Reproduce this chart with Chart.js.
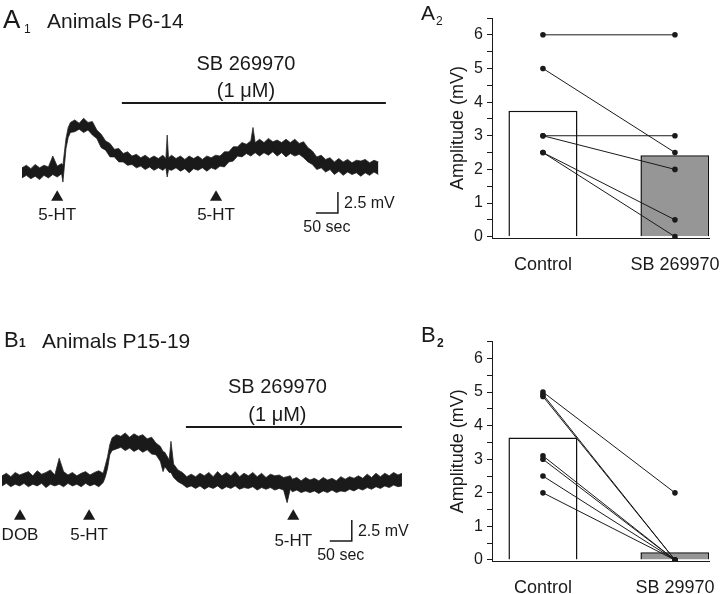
<!DOCTYPE html>
<html><head><meta charset="utf-8">
<script src="https://cdn.jsdelivr.net/npm/chart.js@4.4.1/dist/chart.umd.min.js"></script>
<style>
html,body{margin:0;padding:0;background:#fff;}
#wrap{position:relative;width:720px;height:594px;overflow:hidden;font-family:"Liberation Sans",Arial,sans-serif;color:#1a1a1a;}
canvas{position:absolute;}
.lbl{position:absolute;white-space:nowrap;line-height:1;}
</style></head><body>
<div id="wrap">
<canvas id="a1" width="400" height="250" style="left:0px;top:0px"></canvas>
<canvas id="b1" width="410" height="294" style="left:0px;top:300px"></canvas>
<canvas id="a2" width="320" height="300" style="left:400px;top:0px"></canvas>
<canvas id="b2" width="320" height="294" style="left:400px;top:300px"></canvas>
<div class="lbl" style="left:3px;top:6px;font-size:26px">A</div>
<div class="lbl" style="left:24px;top:23px;font-size:12px">1</div>
<div class="lbl" style="left:47px;top:10px;font-size:21px">Animals P6-14</div>
<div class="lbl" style="left:421px;top:2px;font-size:21px">A</div>
<div class="lbl" style="left:436px;top:15px;font-size:12px">2</div>
<div class="lbl" style="left:4px;top:329px;font-size:22px">B</div>
<div class="lbl" style="left:19px;top:337px;font-size:12px;font-weight:bold">1</div>
<div class="lbl" style="left:42px;top:330px;font-size:21px">Animals P15-19</div>
<div class="lbl" style="left:421px;top:324px;font-size:22px">B</div>
<div class="lbl" style="left:437px;top:337px;font-size:12px;font-weight:bold">2</div>
</div>
<script>
// ---------- DATA ----------
// Panel A1 trace (time in s, envelope of the noisy trace in mV relative to baseline)
const a1Time  = [0,10,20,30,40,50,60,70,80,90, 93,96, 100,105,110,
  120,130,140,150,160,170,180,190,200,210,220,230,240,250,260,270,280,290,300,310,320,
  327,330,333,
  340,350,360,370,380,390,400,410,420,430,440,450,460,470,480,490,500,510,520,
  525,
  530,540,550,560,570,580,590,600,610,620,630,640,650,660,670,680,690,700,710,720,730,740,750,760,770,780,790,800,810];
const a1Upper = [0.5,0.8,0.4,0.9,0.5,0.8,0.6,1.9,0.7,1.0, 0.8,2.2, 4.0,5.3,5.9,
  6.2,5.8,6.4,5.9,6.0,5.0,4.5,3.7,3.4,2.7,2.8,2.2,2.4,1.9,2.1,1.7,2.0,1.6,1.9,1.6,2.0,
  1.6,4.4,1.7,
  2.0,1.6,1.9,1.5,1.9,1.6,1.9,1.5,1.9,1.7,2.0,1.9,2.4,2.4,3.0,3.0,3.5,3.3,3.7,
  5.3,
  3.5,3.9,3.5,4.0,3.6,3.8,3.5,3.9,3.5,3.9,3.4,3.6,2.9,2.5,1.8,2.0,1.5,1.7,1.2,1.6,1.2,1.5,1.1,1.4,1.3,1.5,1.1,1.4,1.2];
const a1Lower = [-0.7,-0.4,-0.8,-0.5,-0.9,-0.4,-0.7,-0.3,-0.6,-0.2, -1.2,0.5, 2.8,4.1,4.7,
  4.8,5.1,4.7,5.0,4.4,4.0,2.9,2.6,1.8,1.8,1.2,1.2,0.8,0.9,0.5,0.7,0.3,0.6,0.2,0.5,0.2,
  0.5,-0.6,0.3,
  0.2,0.5,0.1,0.4,-0.1,0.4,0.2,0.5,0.1,0.5,0.3,0.7,0.6,1.2,1.3,1.9,1.8,2.2,1.9,
  2.1,
  2.3,1.9,2.3,2.0,2.4,1.9,2.3,1.8,2.2,1.9,2.1,1.7,1.2,0.9,0.3,0.5,0.0,0.3,-0.3,0.1,-0.4,0.0,-0.3,-0.1,-0.5,-0.1,-0.4,0.0,-0.3];
const a1Drug = [227, 827];          // drug application window (s)
const a1Stim = [80, 441];           // 5-HT applications (s)
const a1StimLabels = ["5-HT", "5-HT"];

// Panel B1 trace
const b1Time  = [0,10,20,30,40,50,60,70,80,90,100,110,120,130,140,150,160,170,180,190,200,210,220,230,
  235,240,245,250,
  260,270,280,290,300,310,320,330,340,350,360,
  366, 370,380, 384,
  390,400,410,420,430,440,450,460,470,480,490,500,510,520,530,540,550,560,570,580,590,600,610,620,630,640,
  648,655,
  660,670,680,690,700,710,720,730,740,750,760,770,780,790,800,810,820,830,840,850,860,870,880,890,900,
  909];
const b1Upper = [0.5,0.8,0.4,0.9,0.6,0.8,1.0,0.5,1.1,0.7,0.9,1.2,0.6,2.6,1.0,0.6,0.9,0.5,0.8,1.0,0.6,0.9,1.1,0.8,
  1.8,2.8,4.2,5.0,
  5.4,5.2,5.6,5.1,5.5,5.2,5.4,4.9,5.1,4.4,4.0,
  3.4, 3.3,2.4, 4.6,
  1.9,1.2,0.9,0.4,0.7,0.4,0.8,0.5,0.9,0.4,1.0,0.5,0.9,0.5,1.0,0.4,0.8,0.5,0.9,0.4,0.8,0.3,0.7,0.5,0.6,0.3,
  0.4,0.5,
  0.1,0.3,-0.1,0.3,0.0,0.2,-0.1,0.3,0.0,0.2,-0.1,0.4,0.1,0.4,0.2,0.5,0.2,0.7,0.3,0.8,0.4,0.8,0.5,0.9,0.6,
  0.8];
const b1Lower = [-0.7,-0.4,-0.8,-0.5,-0.7,-0.4,-0.8,-0.5,-0.7,-0.4,-0.9,-0.5,-0.7,-0.5,-0.8,-0.4,-0.7,-0.5,-0.8,-0.4,-0.7,-0.5,-0.8,-0.3,
  0.4,1.4,3.0,3.5,
  3.7,3.9,3.5,3.8,3.4,3.7,3.3,3.6,3.1,3.0,2.2,
  1.0, 1.6,0.9, 0.9,
  0.3,-0.2,-0.5,-0.9,-0.7,-1.0,-0.7,-1.1,-0.8,-1.0,-0.7,-1.1,-0.8,-1.0,-0.7,-1.1,-0.9,-1.0,-0.8,-1.2,-0.9,-1.1,-0.9,-1.2,-1.0,-1.2,
  -2.7,-1.1,
  -1.4,-1.2,-1.5,-1.3,-1.5,-1.3,-1.6,-1.3,-1.5,-1.2,-1.5,-1.3,-1.4,-1.1,-1.3,-1.0,-1.2,-0.9,-1.1,-0.8,-1.0,-0.7,-0.9,-0.6,-0.8,
  -0.7];
const b1Drug = [418, 909];
const b1Stim = [41, 198, 662];
const b1StimLabels = ["DOB", "5-HT", "5-HT"];

const drugName = "SB 269970";
const drugConc = "(1 \u03bcM)";
const scaleSec = 50;     // time calibration (s)
const scaleMv  = 2.5;    // voltage calibration (mV)

// Panel A2 (paired amplitudes, mV)
const a2Categories = ["Control", "SB 269970"];
const a2Means   = [3.74, 2.42];
const a2Control = [6, 5, 3, 3, 2.5, 2.5];
const a2Drug    = [6, 2.5, 3, 2, 0.5, 0];

// Panel B2
const b2Categories = ["Control", "SB 29970"];
const b2Means   = [3.65, 0.23];
const b2Control = [5.0, 4.93, 4.87, 3.1, 3.0, 2.5, 2.0];
const b2Drug    = [2.0, 0, 0, 0, 0, 0, 0];

const yTickValues = [0,0.5,1,1.5,2,2.5,3,3.5,4,4.5,5,5.5,6,6.5];
const yTickLabels = ["0","","1","","2","","3","","4","","5","","6",""];
const yTitle = "Amplitude (mV)";

// ---------- DRAWING ----------
const INK = '#1a1a1a';
const FONT = '"Liberation Sans", Arial, sans-serif';

const annotPlugin = {
  id: 'annot',
  afterDatasetsDraw(chart, args, opts) {
    const {ctx, scales} = chart;
    (opts.items || []).forEach(it => {
      ctx.save();
      ctx.font = it.size + 'px ' + FONT;
      ctx.fillStyle = INK;
      ctx.textAlign = it.align || 'center';
      ctx.textBaseline = 'middle';
      ctx.fillText(it.text, scales.x.getPixelForValue(it.t), scales.y.getPixelForValue(it.v));
      ctx.restore();
    });
  }
};

function traceConfig(p) {
  const up = p.time.map((t, i) => ({x: t, y: p.upper[i]}));
  const lo = p.time.map((t, i) => ({x: t, y: p.lower[i]}));
  const c = p.cal;
  const items = [
    {text: drugName, t: p.drugText[0], v: p.drugText[1], size: 20},
    {text: drugConc, t: p.drugText[0], v: p.drugText[2], size: 20},
    {text: scaleMv + ' mV', t: c.t + 14, v: c.v + scaleMv / 2 - 0.1, size: 16, align: 'left'},
    {text: scaleSec + ' sec', t: c.t - 25, v: c.v - 1.75, size: 16}
  ];
  p.stim.forEach((t, i) => items.push({text: p.stimLabels[i], t: t, v: p.stimTextV[i], size: 17}));
  return {
    type: 'line',
    data: {datasets: [
      {data: up, borderColor: '#2a2a2a', borderWidth: 0.8, pointRadius: 0, fill: '+1', backgroundColor: INK, tension: 0},
      {data: lo, borderColor: '#2a2a2a', borderWidth: 0.8, pointRadius: 0, fill: false, tension: 0},
      {data: p.drug.map(t => ({x: t, y: p.drugLevel})), borderColor: INK, borderWidth: 2, pointRadius: 0, fill: false},
      {data: p.stim.map(t => ({x: t, y: p.stimLevel})), showLine: false, pointStyle: 'triangle', pointRadius: 7,
        pointBackgroundColor: INK, pointBorderColor: INK, pointBorderWidth: 0},
      {data: [{x: c.t, y: c.v + scaleMv}, {x: c.t, y: c.v}, {x: c.t - scaleSec, y: c.v}],
        borderColor: INK, borderWidth: 1.5, pointRadius: 0, fill: false}
    ]},
    options: {
      responsive: false, animation: false, events: [],
      layout: {padding: 0, autoPadding: false},
      plugins: {legend: {display: false}, tooltip: {enabled: false}, annot: {items}},
      scales: {
        x: {type: 'linear', display: false, min: p.xRange[0], max: p.xRange[1]},
        y: {type: 'linear', display: false, min: p.yRange[0], max: p.yRange[1]}
      }
    },
    plugins: [annotPlugin]
  };
}

new Chart(document.getElementById('a1'), traceConfig({
  time: a1Time, upper: a1Upper, lower: a1Lower,
  drug: a1Drug, drugLevel: 8.2, drugText: [509, 12.8, 9.55],
  stim: a1Stim, stimLabels: a1StimLabels, stimLevel: -3.0, stimTextV: [-5.2, -5.2],
  cal: {t: 718, v: -4.88},
  xRange: [-50, 859.1], yRange: [-9.286, 20.476]
}));

new Chart(document.getElementById('b1'), traceConfig({
  time: b1Time, upper: b1Upper, lower: b1Lower,
  drug: b1Drug, drugLevel: 6.31, drugText: [626, 11.07, 7.74],
  stim: b1Stim, stimLabels: b1StimLabels, stimLevel: -4.3, stimTextV: [-6.6, -6.6, -7.3],
  cal: {t: 795, v: -7.26},
  xRange: [-4.545, 927.3], yRange: [-13.57, 21.43]
}));

function pairedConfig(p) {
  const ds = [{
    type: 'bar',
    data: p.means.map((m, i) => ({x: i + 1, y: m})),
    backgroundColor: ['#ffffff', '#969696'],
    borderColor: '#111', borderWidth: 1.5,
    barPercentage: 0.523, categoryPercentage: 1,
    order: 5
  }];
  p.control.forEach((v, i) => {
    ds.push({
      type: 'line',
      data: [{x: 1, y: v}, {x: 2, y: p.drug[i]}],
      borderColor: INK, borderWidth: 1, pointRadius: 2.8, pointBackgroundColor: INK,
      pointBorderWidth: 0, fill: false, order: 1
    });
  });
  return {
    type: 'bar',
    data: {datasets: ds},
    options: {
      responsive: false, animation: false, events: [],
      layout: {padding: {left: 47, top: p.top, right: 11, bottom: 0}, autoPadding: false},
      plugins: {legend: {display: false}, tooltip: {enabled: false}},
      scales: {
        x: {
          type: 'linear', min: 0.614, max: 2.258, offset: false,
          afterBuildTicks: s => { s.ticks = [{value: 1}, {value: 2}]; },
          afterFit: s => { s.height = p.xh; s.paddingLeft = 0; s.paddingRight = 0; },
          ticks: {callback: (v) => p.categories[Math.round(v) - 1], font: {size: 18, family: FONT}, color: INK, padding: 16, maxRotation: 0, autoSkip: false},
          grid: {display: false, drawTicks: false},
          border: {display: true, color: INK, width: 1}
        },
        y: {
          type: 'linear', min: p.ymin, max: 6.5,
          afterBuildTicks: s => { s.ticks = yTickValues.map(v => ({value: v})); },
          afterFit: s => { s.width = 45; s.paddingTop = 0; s.paddingBottom = 0; },
          ticks: {callback: (v, i) => yTickLabels[i], font: {size: 16, family: FONT}, color: INK, padding: 4, autoSkip: false},
          grid: {display: true, drawOnChartArea: false, drawTicks: true, tickLength: 5, color: INK},
          border: {display: true, color: INK, width: 1},
          title: {display: true, text: yTitle, font: {size: 18, family: FONT}, color: INK, padding: 0}
        }
      }
    }
  };
}

new Chart(document.getElementById('a2'), pairedConfig({
  categories: a2Categories, means: a2Means, control: a2Control, drug: a2Drug,
  top: 18, xh: 62, ymin: -0.04
}));
new Chart(document.getElementById('b2'), pairedConfig({
  categories: b2Categories, means: b2Means, control: b2Control, drug: b2Drug,
  top: 41.7, xh: 33, ymin: -0.03
}));
</script>
</body></html>
